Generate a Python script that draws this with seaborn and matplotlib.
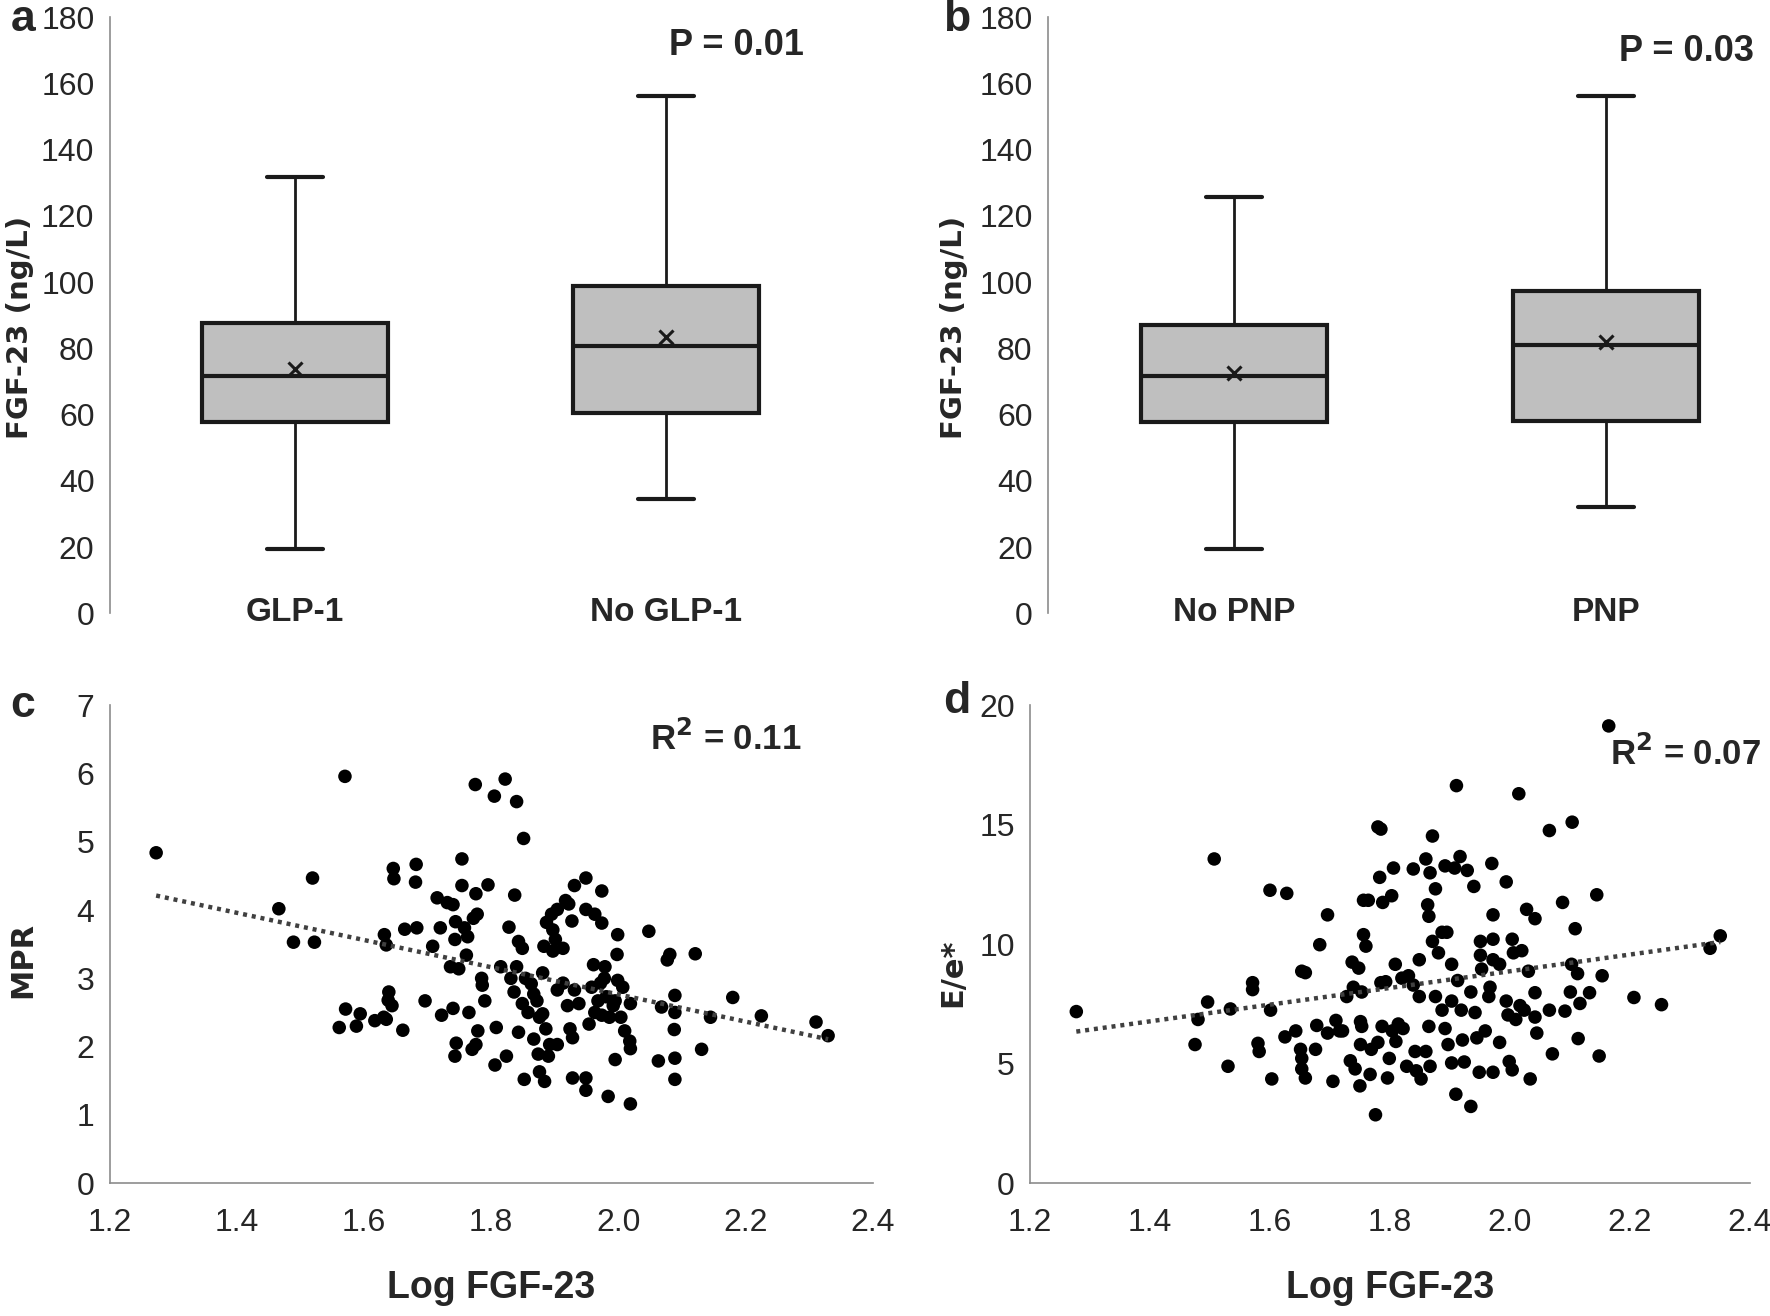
import numpy as np
import pandas as pd
import matplotlib
matplotlib.use("Agg")
import matplotlib.pyplot as plt
import seaborn as sns

# ---------------- data ----------------

# panel a : FGF-23 by GLP-1 treatment
a_groups = ["GLP-1", "No GLP-1"]
a_low = [19.5, 34.5]
a_q1 = [57.8, 60.6]
a_med = [71.7, 80.8]
a_mean = [73.6, 83.4]
a_q3 = [87.6, 98.9]
a_high = [131.6, 156.2]

# panel b : FGF-23 by PNP
b_groups = ["No PNP", "PNP"]
b_low = [19.5, 32.0]
b_q1 = [57.6, 58.0]
b_med = [71.6, 81.0]
b_mean = [72.6, 82.0]
b_q3 = [86.9, 97.2]
b_high = [125.8, 156.2]

# panel c : MPR vs log FGF-23
c_x = [1.273, 1.570, 1.466, 1.519, 1.489, 1.522, 1.561, 1.571, 1.588, 1.594,
       1.617, 1.631, 1.638, 1.644, 1.635, 1.661, 1.639, 1.646, 1.647, 1.682,
       1.681, 1.632, 1.635, 1.664, 1.683, 1.696, 1.708, 1.715, 1.731, 1.740,
       1.720, 1.722, 1.740, 1.743, 1.744, 1.745, 1.743, 1.736, 1.749, 1.754,
       1.754, 1.758, 1.763, 1.761, 1.765, 1.770, 1.776, 1.775, 1.776, 1.778,
       1.772, 1.785, 1.790, 1.786, 1.779, 1.795, 1.805, 1.808, 1.806, 1.815,
       1.822, 1.824, 1.828, 1.831, 1.836, 1.837, 1.840, 1.840, 1.843, 1.849,
       1.843, 1.851, 1.849, 1.854, 1.858, 1.863, 1.852, 1.867, 1.872, 1.876,
       1.876, 1.884, 1.881, 1.883, 1.867, 1.874, 1.881, 1.886, 1.890, 1.892,
       1.904, 1.887, 1.895, 1.904, 1.897, 1.901, 1.904, 1.897, 1.913, 1.917,
       1.922, 1.927, 1.931, 1.920, 1.924, 1.928, 1.913, 1.931, 1.938, 1.928,
       1.949, 1.949, 1.949, 1.949, 1.954, 1.958, 1.961, 1.963, 1.974, 1.974,
       1.963, 1.968, 1.972, 1.979, 1.978, 1.974, 1.986, 1.981, 1.984, 1.999,
       1.998, 1.999, 1.995, 1.992, 2.007, 2.004, 2.010, 2.018, 2.019, 1.995,
       2.019, 2.019, 2.048, 2.068, 2.077, 2.081, 2.089, 2.089, 2.088, 2.063,
       2.089, 2.089, 2.121, 2.131, 2.145, 2.180, 2.225, 2.311, 2.330]
c_y = [4.84, 5.96, 4.02, 4.47, 3.53, 3.53, 2.28, 2.55, 2.30, 2.48,
       2.38, 2.43, 2.68, 2.60, 2.40, 2.24, 2.80, 4.61, 4.46, 4.67,
       4.41, 3.64, 3.49, 3.72, 3.74, 2.67, 3.47, 4.18, 4.11, 4.08,
       3.74, 2.46, 2.56, 3.57, 3.83, 2.05, 1.86, 3.17, 3.14, 4.75,
       4.36, 3.74, 3.61, 3.34, 2.50, 1.96, 2.03, 5.84, 4.24, 3.94,
       3.88, 3.00, 2.67, 2.90, 2.23, 4.37, 5.67, 2.28, 1.73, 3.17,
       5.92, 1.86, 3.75, 3.00, 2.80, 4.22, 5.59, 3.17, 3.54, 3.44,
       2.21, 5.05, 2.63, 3.00, 2.50, 2.92, 1.52, 2.77, 2.67, 2.43,
       1.63, 1.49, 3.08, 3.47, 2.11, 1.89, 2.48, 2.26, 1.86, 2.03,
       2.03, 3.82, 3.94, 4.01, 3.71, 3.57, 2.83, 3.40, 3.44, 4.14,
       4.09, 3.84, 4.36, 2.60, 2.26, 2.13, 2.93, 2.83, 2.63, 1.54,
       4.47, 4.01, 1.54, 1.36, 2.33, 2.87, 3.20, 3.94, 4.28, 3.81,
       2.50, 2.67, 2.93, 3.17, 3.00, 2.46, 2.43, 2.73, 1.27, 3.64,
       3.35, 2.97, 2.67, 2.60, 2.87, 2.43, 2.23, 2.08, 1.97, 1.81,
       2.63, 1.16, 3.69, 2.58, 3.27, 3.35, 2.75, 2.50, 2.25, 1.79,
       1.83, 1.52, 3.36, 1.96, 2.43, 2.72, 2.45, 2.36, 2.16]

# panel d : E/e* vs log FGF-23
d_x = [1.277, 1.475, 1.480, 1.496, 1.507, 1.530, 1.534, 1.571, 1.571, 1.580,
       1.582, 1.600, 1.603, 1.601, 1.628, 1.625, 1.643, 1.651, 1.653, 1.653,
       1.659, 1.653, 1.659, 1.676, 1.678, 1.683, 1.696, 1.696, 1.705, 1.710,
       1.716, 1.721, 1.728, 1.734, 1.737, 1.739, 1.742, 1.748, 1.750, 1.751,
       1.751, 1.753, 1.756, 1.756, 1.764, 1.760, 1.753, 1.767, 1.769, 1.776,
       1.780, 1.785, 1.783, 1.785, 1.788, 1.780, 1.787, 1.793, 1.796, 1.799,
       1.803, 1.806, 1.804, 1.809, 1.810, 1.814, 1.820, 1.822, 1.828, 1.831,
       1.839, 1.839, 1.842, 1.844, 1.849, 1.852, 1.849, 1.860, 1.863, 1.865,
       1.867, 1.860, 1.865, 1.871, 1.867, 1.871, 1.876, 1.876, 1.881, 1.887,
       1.892, 1.895, 1.887, 1.892, 1.897, 1.903, 1.903, 1.903, 1.908, 1.911,
       1.910, 1.917, 1.913, 1.919, 1.921, 1.924, 1.929, 1.935, 1.935, 1.940,
       1.942, 1.945, 1.949, 1.951, 1.951, 1.953, 1.959, 1.965, 1.967, 1.970,
       1.972, 1.972, 1.972, 1.972, 1.983, 1.983, 1.994, 1.994, 1.997, 1.999,
       2.004, 2.004, 2.006, 2.010, 2.015, 2.017, 2.020, 2.024, 2.028, 2.031,
       2.034, 2.042, 2.042, 2.042, 2.045, 2.066, 2.066, 2.071, 2.088, 2.092,
       2.101, 2.103, 2.104, 2.109, 2.113, 2.117, 2.114, 2.133, 2.145, 2.149,
       2.154, 2.165, 2.207, 2.253, 2.334, 2.351]
d_y = [7.18, 5.80, 6.85, 7.58, 13.57, 4.89, 7.29, 8.10, 8.39, 5.85,
       5.51, 12.26, 4.36, 7.24, 12.13, 6.12, 6.37, 5.60, 5.22, 4.78,
       4.40, 8.87, 8.81, 5.60, 6.60, 9.98, 11.23, 6.28, 4.26, 6.81,
       6.37, 6.37, 7.81, 5.12, 9.25, 8.20, 4.78, 9.00, 4.07, 6.76,
       5.80, 8.00, 10.40, 11.84, 11.84, 9.92, 6.56, 4.55, 5.60, 2.86,
       14.91, 14.82, 12.80, 8.39, 11.75, 5.89, 6.56, 8.43, 4.40, 5.22,
       12.03, 13.19, 6.37, 9.16, 5.93, 6.66, 8.58, 6.47, 4.89, 8.68,
       13.15, 8.29, 5.51, 4.70, 9.35, 4.36, 7.81, 13.57, 11.65, 11.17,
       4.89, 5.51, 6.56, 10.12, 12.99, 14.53, 12.32, 7.81, 9.64, 10.50,
       13.28, 10.50, 7.24, 6.47, 5.80, 5.03, 9.16, 7.62, 13.19, 16.64,
       3.72, 13.67, 8.48, 7.24, 5.99, 5.07, 13.09, 8.00, 3.21, 12.42,
       7.14, 6.08, 4.64, 10.12, 9.54, 8.96, 6.37, 7.81, 8.20, 13.38,
       11.23, 10.21, 9.35, 4.64, 9.16, 5.89, 12.61, 7.62, 7.04, 5.09,
       4.74, 10.21, 9.64, 6.85, 16.30, 7.43, 9.73, 7.24, 11.46, 8.87,
       4.36, 11.07, 7.97, 6.95, 6.28, 14.76, 7.24, 5.41, 11.75, 7.20,
       8.00, 9.16, 15.11, 10.65, 8.77, 7.52, 6.05, 7.97, 12.07, 5.32,
       8.68, 19.14, 7.77, 7.47, 9.83, 10.35]

df_c = pd.DataFrame({"log_fgf": c_x, "mpr": c_y})
df_d = pd.DataFrame({"log_fgf": d_x, "ee": d_y})

# ---------------- style ----------------

sns.set_style("white")
plt.rcParams["font.family"] = ["Liberation Sans", "DejaVu Sans"]
axis_grey = "#8c8c8c"
tick_size = 23

fig = plt.figure(figsize=(17.7, 13.16), dpi=100)

ax_a = fig.add_axes([0.062, 0.534, 0.419, 0.453])
ax_b = fig.add_axes([0.592, 0.534, 0.408, 0.453])
ax_c = fig.add_axes([0.062, 0.101, 0.431, 0.363])
ax_d = fig.add_axes([0.582, 0.101, 0.4065, 0.363])


def draw_boxes(ax, names, low, q1, med, mean, q3, high, p_text, p_x, p_y, xmax):
    stats = []
    for i in range(len(names)):
        stats.append({"label": names[i], "whislo": low[i], "q1": q1[i],
                      "med": med[i], "mean": mean[i], "q3": q3[i],
                      "whishi": high[i], "fliers": []})
    ax.bxp(stats, positions=[0, 1], widths=0.5, capwidths=0.15,
           patch_artist=True, showmeans=True, showfliers=False,
           boxprops=dict(facecolor="#bfbfbf", edgecolor="#1a1a1a", linewidth=3),
           medianprops=dict(color="#1a1a1a", linewidth=3),
           whiskerprops=dict(color="#1a1a1a", linewidth=2),
           capprops=dict(color="#1a1a1a", linewidth=3),
           meanprops=dict(marker="x", markeredgecolor="#1a1a1a",
                          markersize=10, markeredgewidth=2.2))
    ax.set_ylim(0, 180)
    ax.set_yticks(range(0, 181, 20))
    ax.set_xlim(-0.5, xmax)
    ax.set_xticks([0, 1])
    ax.set_xticklabels(names, fontsize=tick_size + 1, fontweight="bold")
    ax.tick_params(axis="x", length=0, pad=-12)
    ax.tick_params(axis="y", length=0, pad=11, labelsize=tick_size)
    for s in ["top", "right", "bottom"]:
        ax.spines[s].set_visible(False)
    ax.spines["left"].set_color(axis_grey)
    ax.spines["left"].set_linewidth(1.2)
    ax.set_ylabel("FGF-23 (ng/L)", fontsize=21, fontweight="bold",
                  family=["DejaVu Sans"])
    ax.text(p_x, p_y, p_text, transform=ax.transAxes, ha="right", va="center",
            fontsize=26, fontweight="bold")


draw_boxes(ax_a, a_groups, a_low, a_q1, a_med, a_mean, a_q3, a_high,
           "P = 0.01", 0.936, 0.953, 1.5)
draw_boxes(ax_b, b_groups, b_low, b_q1, b_med, b_mean, b_q3, b_high,
           "P = 0.03", 0.977, 0.943, 1.44)
ax_a.yaxis.set_label_coords(-0.102, 0.479)
ax_b.yaxis.set_label_coords(-0.111, 0.479)


def draw_scatter(ax, data, ycol, ylabel, ymax, ystep, r_text, r_x, r_y):
    sns.regplot(data=data, x="log_fgf", y=ycol, ax=ax, ci=None,
                scatter_kws=dict(color="black", s=95, edgecolor="none", alpha=1),
                line_kws=dict(color="#404040", linewidth=3.2,
                              linestyle=(0, (0.9, 1.1))))
    ax.set_xlim(1.2, 2.4)
    ax.set_ylim(0, ymax)
    ax.set_xticks(np.arange(1.2, 2.41, 0.2))
    ax.set_xticklabels(["%.1f" % v for v in np.arange(1.2, 2.41, 0.2)])
    ax.set_yticks(np.arange(0, ymax + 0.1, ystep))
    ax.tick_params(axis="x", length=0, pad=18, labelsize=tick_size)
    ax.tick_params(axis="y", length=0, pad=11, labelsize=tick_size)
    for s in ["top", "right"]:
        ax.spines[s].set_visible(False)
    for s in ["left", "bottom"]:
        ax.spines[s].set_color(axis_grey)
        ax.spines[s].set_linewidth(1.2)
    ax.set_xlabel("Log FGF-23", fontsize=27, fontweight="bold")
    ax.xaxis.set_label_coords(0.5, -0.182)
    ax.set_ylabel(ylabel, fontsize=22, fontweight="bold",
                  family=["DejaVu Sans"])
    ax.text(r_x, r_y, r_text, transform=ax.transAxes, ha="right", va="center",
            fontsize=25, fontweight="bold")


draw_scatter(ax_c, df_c, "mpr", "MPR", 7, 1, "R$^\\mathbf{2}$ = 0.11", 0.907, 0.929)
draw_scatter(ax_d, df_d, "ee", "E/e*", 20, 5, "R$^\\mathbf{2}$ = 0.07", 1.016, 0.898)
ax_c.yaxis.set_label_coords(-0.095, 0.468)
ax_d.yaxis.set_label_coords(-0.088, 0.44)

# panel letters
for lx, ly, letter in [(0.006, 0.985, "a"), (0.533, 0.985, "b"),
                       (0.006, 0.464, "c"), (0.533, 0.467, "d")]:
    fig.text(lx, ly, letter, fontsize=32, fontweight="bold", ha="left",
             va="center")

fig.savefig("out.png", dpi=100)
